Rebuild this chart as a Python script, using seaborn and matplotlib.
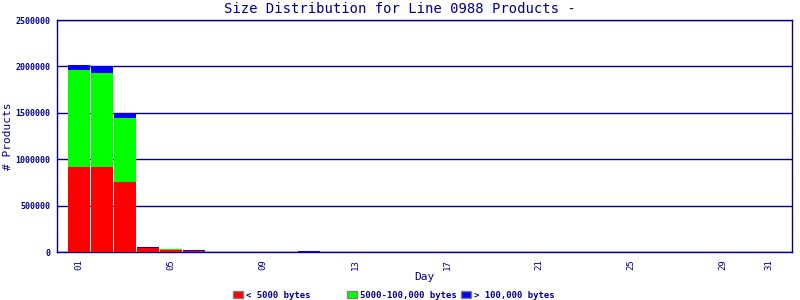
import matplotlib
matplotlib.use("Agg")
import matplotlib.pyplot as plt
from matplotlib.patches import Patch
import seaborn as sns
import pandas as pd
import numpy as np

days = [f"{d:02d}" for d in range(1, 32)]
small = [920000, 920000, 755000, 46000, 26000, 11000, 0, 0, 0, 0, 0, 0, 0, 0, 0, 0,
         0, 0, 0, 0, 0, 0, 0, 0, 0, 0, 0, 0, 0, 0, 0]
medium = [1040000, 1012000, 690000, 2000, 1000, 1000, 0, 0, 0, 0, 0, 0, 0, 0, 0, 0,
          0, 0, 0, 0, 0, 0, 0, 0, 0, 0, 0, 0, 0, 0, 0]
large = [55000, 70000, 54000, 8000, 9000, 12000, 0, 0, 0, 0, 9000, 0, 0, 0, 0, 0,
         0, 0, 0, 0, 0, 0, 0, 0, 0, 0, 0, 0, 0, 0, 0]
series_labels = ["< 5000 bytes", "5000-100,000 bytes", "> 100,000 bytes"]
tick_days = ["01", "05", "09", "13", "17", "21", "25", "29", "31"]
yticks = [0, 500000, 1000000, 1500000, 2000000, 2500000]

NAVY = "#00008B"
colors = ["#FF0000", "#00FF00", "#0000FF"]

sns.set_theme(style="white")
plt.rcParams["font.family"] = ["DejaVu Sans Mono"]

df = pd.DataFrame({"day": days, "small": small, "medium": medium, "large": large})
df["c1"] = df["small"]
df["c2"] = df["small"] + df["medium"]
df["c3"] = df["c2"] + df["large"]

fig = plt.figure(figsize=(8, 3), dpi=100)
ax = fig.add_axes([57 / 800, 48 / 300, (792 - 57) / 800, (252 - 20) / 300])

for col, c in zip(["c3", "c2", "c1"], colors[::-1]):
    sns.barplot(data=df, x="day", y=col, color=c, order=days, width=0.96,
                saturation=1, ax=ax, linewidth=0, zorder=3)

ax.set_xlim(-0.96, 31)
ax.set_ylim(0, 2500000)
ax.set_yticks(yticks)
ax.set_yticklabels([str(v) for v in yticks], fontsize=6, fontweight="bold", color=NAVY)
ax.yaxis.grid(True, color=NAVY, linewidth=1, zorder=0)
ax.set_axisbelow(True)
pos = [days.index(t) for t in tick_days]
ax.set_xticks(pos)
ax.set_xticklabels(tick_days, rotation=90, fontsize=6.5, color=NAVY)
ax.tick_params(axis="both", length=0, pad=5)
for s in ax.spines.values():
    s.set_color(NAVY)
    s.set_linewidth(1)
    s.set_visible(True)
ax.set_xlabel("Day", fontsize=8, color=NAVY, labelpad=2)
ax.set_ylabel("")
fig.text(8 / 800, 1 - 136 / 300, "# Products", rotation=90, ha="center", va="center",
         fontsize=8, color=NAVY)
fig.text(0.5, 1 - 9 / 300, "Size Distribution for Line 0988 Products -", ha="center",
         va="center", fontsize=10, color=NAVY)

xs = [233, 347, 461]
for x, lab, c in zip(xs, series_labels, colors):
    fig.legend(handles=[Patch(facecolor=c, edgecolor="gray", label=lab)],
               loc="center left", bbox_to_anchor=(x / 800 - 0.006, 1 - 295 / 300),
               frameon=False, handlelength=1.1, handleheight=0.9,
               handletextpad=0.4, borderpad=0, prop={"weight": "bold", "size": 6.5},
               labelcolor=NAVY)

fig.savefig("out.png", dpi=100, facecolor="white")
